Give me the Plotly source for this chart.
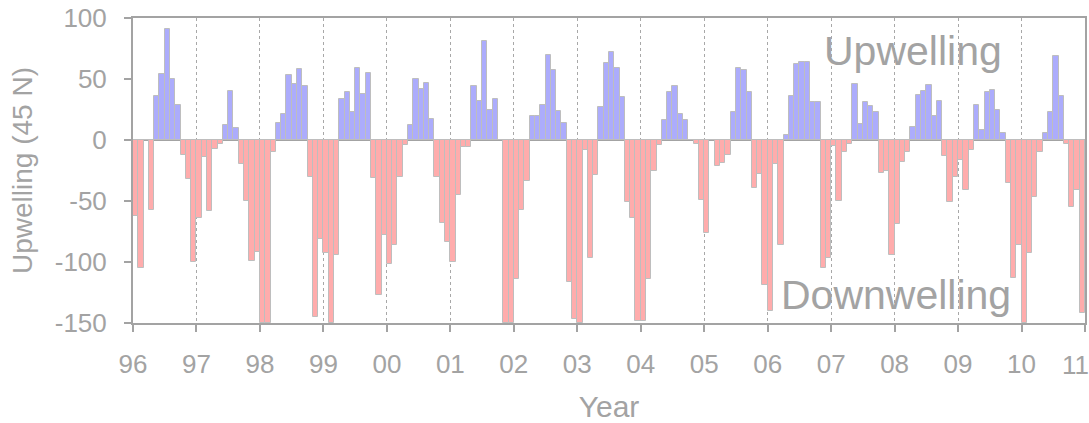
import plotly.graph_objects as go

# Monthly upwelling index at 45 N, Jan 1996 – Dec 2010 (one list per year)
start_year = 1996
upwelling_by_year = {
    1996: [-62, -105, 0, -57, 36, 54, 91, 50, 29, -12, -32, -100],
    1997: [-64, -14, -58, -7, -3, 12, 40, 10, -20, -50, -99, -92],
    1998: [-150, -150, -10, 14, 21, 53, 46, 58, 44, -30, -145, -81],
    1999: [-93, -150, -94, 34, 39, 23, 59, 38, 55, -31, -127, -78],
    2000: [-102, -86, -30, -4, 12, 50, 42, 47, 17, -30, -68, -84],
    2001: [-100, -45, -6, -6, 44, 32, 81, 25, 34, 0, -150, -150],
    2002: [-114, -57, -34, 20, 20, 29, 70, 57, 24, 14, -116, -147],
    2003: [-150, -8, -97, -29, 27, 63, 72, 59, 35, -51, -64, -148],
    2004: [-148, -114, -25, -4, 16, 39, 44, 21, 16, 0, -3, -49],
    2005: [-76, 0, -21, -19, -12, 23, 59, 57, 39, -39, -28, -119],
    2006: [-140, -20, -86, 4, 36, 62, 64, 64, 31, 31, -105, -97],
    2007: [-5, -50, -10, -3, 46, 13, 31, 28, 23, -27, -25, -94],
    2008: [-69, -18, -10, 11, 37, 40, 45, 20, 32, -13, -51, -30],
    2009: [-16, -41, -8, 29, 8, 39, 41, 25, 6, -35, -113, -86],
    2010: [-150, -93, -47, -10, 6, 23, 69, 36, -3, -55, -41, -142],
}

year_ticks = list(range(1996, 2012))
year_tick_text = [str(y)[-2:] for y in year_ticks]
y_ticks = [-150, -100, -50, 0, 50, 100]
y_tick_text = [str(v) for v in y_ticks]

# Flatten into a monthly series placed at month centres
values = []
for yr in sorted(upwelling_by_year):
    values.extend(upwelling_by_year[yr])
months_x = [start_year + (i + 0.5) / 12 for i in range(len(values))]

up_x = [x for x, v in zip(months_x, values) if v > 0]
up_v = [v for v in values if v > 0]
down_x = [x for x, v in zip(months_x, values) if v <= 0]
down_v = [v for v in values if v <= 0]

GREY = "#a3a3a3"
FONT = "Liberation Sans, Arial, sans-serif"
BAR_EDGE = "rgb(190,190,190)"

# the last year label sits at the right edge; it is drawn as an annotation
# pulled inside the page so it is not cut off
axis_tick_text = year_tick_text[:-1] + [""]
last_year_label = year_tick_text[-1]

fig = go.Figure()
fig.add_trace(go.Bar(
    x=up_x, y=up_v, width=1 / 12,
    marker=dict(color="rgb(172,172,252)", line=dict(color=BAR_EDGE, width=1)),
    name="Upwelling", showlegend=False,
))
fig.add_trace(go.Bar(
    x=down_x, y=down_v, width=1 / 12,
    marker=dict(color="rgb(255,172,172)", line=dict(color=BAR_EDGE, width=1)),
    name="Downwelling", showlegend=False,
))

fig.update_layout(
    width=1089, height=423,
    margin=dict(l=133, r=4, t=18, b=100, autoexpand=False),
    paper_bgcolor="white", plot_bgcolor="white",
    font=dict(family=FONT, color=GREY, size=26),
    barmode="overlay", bargap=0,
    xaxis=dict(
        range=[1996, 2011], automargin=False,
        tickmode="array", tickvals=year_ticks, ticktext=axis_tick_text,
        showgrid=True, gridcolor="#a8a8a8", griddash="dot", gridwidth=1,
        showline=True, linecolor=GREY, linewidth=2, mirror=True,
        ticks="outside", ticklen=7, tickcolor=GREY, tickwidth=1.5,
        ticklabelstandoff=10,
        tickfont=dict(size=26, color=GREY),
        zeroline=False,
        title=dict(text="Year", font=dict(size=30, color=GREY), standoff=20),
    ),
    yaxis=dict(
        range=[-150, 100], automargin=False,
        tickmode="array", tickvals=y_ticks, ticktext=y_tick_text,
        showgrid=False,
        showline=True, linecolor=GREY, linewidth=2, mirror=True,
        ticks="outside", ticklen=7, tickcolor=GREY, tickwidth=1.5,
        ticklabelstandoff=12,
        tickfont=dict(size=26, color=GREY),
        zeroline=True, zerolinecolor=GREY, zerolinewidth=2,
        title=dict(text="Upwelling (45 N)", font=dict(size=28, color=GREY), standoff=14),
    ),
    annotations=[
        dict(text="Upwelling", xref="paper", yref="y", x=0.8194, y=73,
             xanchor="center", yanchor="middle", showarrow=False,
             font=dict(size=41, color=GREY, family=FONT)),
        dict(text="Downwelling", xref="paper", yref="y", x=0.8015, y=-127,
             xanchor="center", yanchor="middle", showarrow=False,
             font=dict(size=41, color=GREY, family=FONT)),
        dict(text=last_year_label, xref="paper", yref="paper", x=1.006, y=-0.138,
             xanchor="right", yanchor="middle", showarrow=False,
             font=dict(size=26, color=GREY, family=FONT)),
    ],
)

fig.write_html("out.html")
